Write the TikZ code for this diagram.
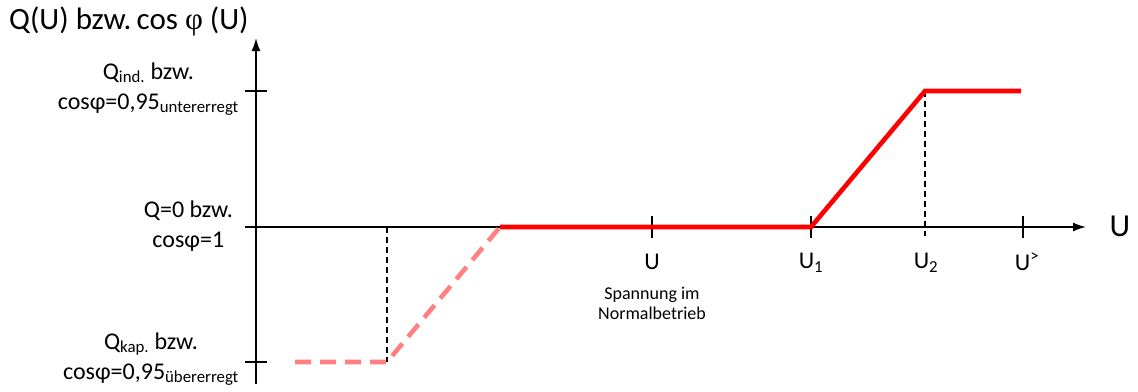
\documentclass[tikz,border=0pt]{standalone}
\usepackage{fontspec}
\setmainfont{Carlito}
\newfontfamily\phifont{Liberation Serif}
\usetikzlibrary{positioning,arrows.meta}

\begin{document}
\begin{tikzpicture}[x=1pt,y=-1pt,
   axis/.style={line width=1.6pt,-{Latex[length=13pt,width=9pt]}},
   tick/.style={line width=2.6pt},
   guide/.style={line width=1.6pt,dash pattern=on 6pt off 4pt},
   curve/.style={red,line width=4.6pt},
   curvedash/.style={red!50,line width=4.6pt,dash pattern=on 16pt off 9pt},
   lbl/.style={font=\fontsize{24}{30}\selectfont,align=center,inner sep=0pt},
   small/.style={font=\fontsize{18}{20}\selectfont,align=center,inner sep=0pt}]
   \useasboundingbox (0,0) rectangle (1138,391);
   % axes
   \coordinate (O)    at (256,227);
   \coordinate (ytop) at (256,38);
   \coordinate (ybot) at (256,384);
   \coordinate (xend) at (1086,227);
   \draw[axis] (ybot) -- (ytop);
   \draw[axis] (O) -- (xend);
   \node[font=\fontsize{31}{34}\selectfont,anchor=west,inner sep=0pt] (title) at (9,21)
      {Q(U) bzw.\,cos {\phifont φ} (U)};
   \node[font=\fontsize{32}{34}\selectfont,inner sep=0pt] (xlab) at (1120,226) {U};
   % ticks
   \foreach \y in {91,227,362}
      \draw[tick] (245,\y) -- (267,\y);
   \foreach \x in {652,811,1023}
      \draw[tick] (\x,216) -- (\x,238);
   % points of the curve
   \coordinate (Qind)  at (256,91);
   \coordinate (Qkap)  at (256,362);
   \coordinate (k0) at (295,362);
   \coordinate (k1) at (387,362);
   \coordinate (k2) at (500,227);
   \coordinate (U1) at (811,227);
   \coordinate (U2) at (925,91);
   \coordinate (i1) at (1021,91);
   \coordinate (g1) at (387,227);
   \coordinate (g2) at (925,236);
   % guides
   \draw[guide] (g1) -- (k1);
   \draw[guide] (U2) -- (g2);
   % curve
   \draw[curvedash] (k0) -- (k1) -- (k2);
   \draw[curve] (k2) -- (U1) -- (U2) -- (i1);
   % labels
   \node[lbl,anchor=east] (lind) at (239,89)
      {Q\textsubscript{ind.} bzw.\\cosφ=0,95\textsubscript{untererregt}};
   \node[lbl,anchor=east] (lnull) at (233,226) {Q=0 bzw.\\cosφ=1};
   \node[lbl,anchor=east] (lkap) at (239,359)
      {Q\textsubscript{kap.} bzw.\\cosφ=0,95\textsubscript{übererregt}};
   \node[lbl] (lU)  at (652,262) {U};
   \node[lbl] (lU1) at (811,263) {U\textsubscript{1}};
   \node[lbl] (lU2) at (926,263) {U\textsubscript{2}};
   \node[lbl] (lUg) at (1027,262) {U\textsuperscript{>}};
   \node[small,below=17pt of lU] (norm) {Spannung im\\Normalbetrieb};
\end{tikzpicture}
\end{document}
